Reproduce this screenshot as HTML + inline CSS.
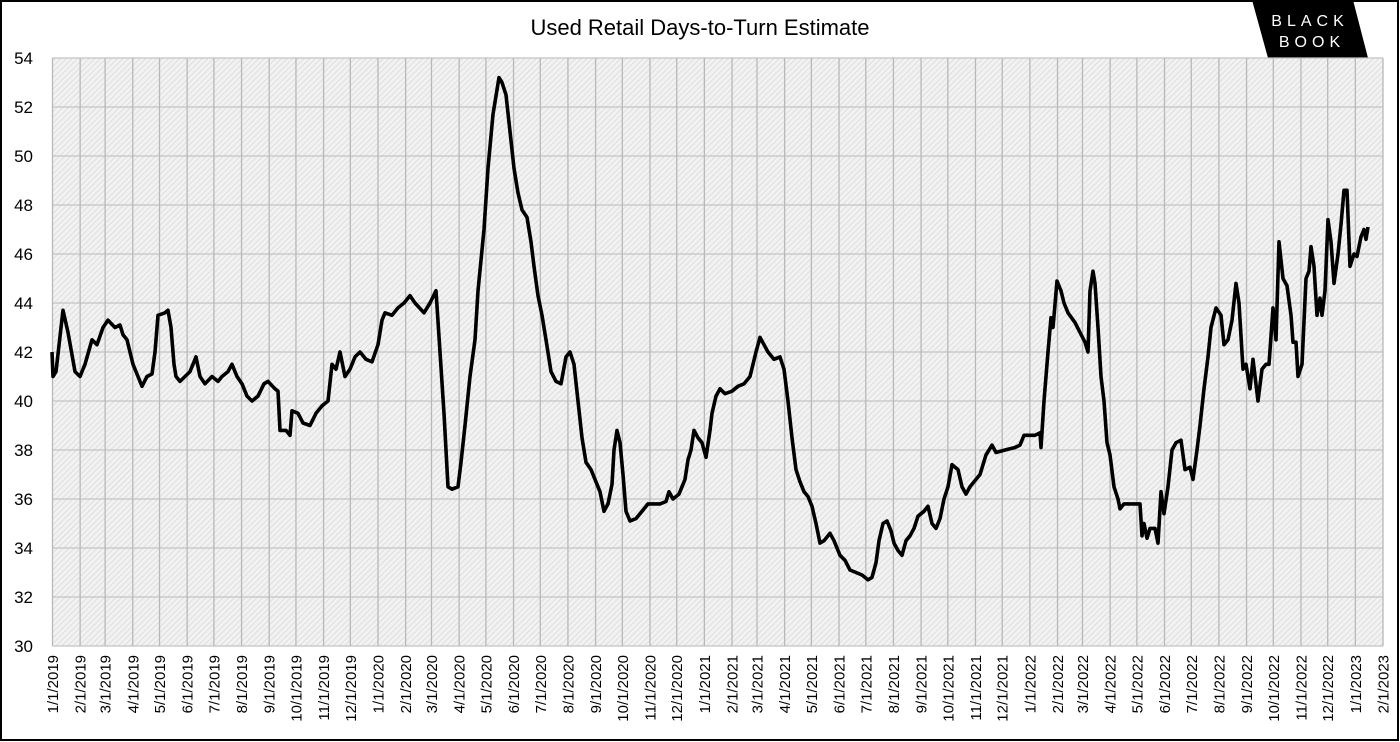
<!DOCTYPE html>
<html><head><meta charset="utf-8"><style>
html,body{margin:0;padding:0;background:#fff;}
svg{display:block;font-family:"Liberation Sans",Arial,sans-serif;}
</style></head><body>
<svg id="s" width="1400" height="742" xmlns="http://www.w3.org/2000/svg">
<defs>
<pattern id="h" width="4" height="4" patternUnits="userSpaceOnUse" patternTransform="rotate(45)">
<rect width="4" height="4" fill="#f2f2f2"/><line x1="0" y1="0" x2="0" y2="4" stroke="#d6d6d6" stroke-width="1.4"/>
</pattern>
</defs>
<rect x="1" y="1" width="1397" height="739" fill="#fff" stroke="#000" stroke-width="2"/>
<text x="700" y="35" font-size="22" text-anchor="middle" fill="#000" style="font-weight:500">Used Retail Days-to-Turn Estimate</text>
<polygon points="1252,0 1353,0 1368,58 1268,58" fill="#000"/>
<text x="1310" y="26" font-size="16" fill="#fff" text-anchor="middle" letter-spacing="5" style="font-weight:500">BLACK</text>
<text x="1312" y="47" font-size="16" fill="#fff" text-anchor="middle" letter-spacing="5" style="font-weight:500">BOOK</text>
<rect x="52.5" y="58" width="1330.5" height="588" fill="url(#h)"/>
<g id="g"></g>
</svg>
<script>
var s=document.getElementById('g'),h='';
var L=52.5,R=1383,T=58,B=646;
function Y(v){return T+(54-v)*24.5;}
for(var v=30;v<=54;v+=2){h+='<line x1="'+L+'" x2="'+R+'" y1="'+Y(v)+'" y2="'+Y(v)+'" stroke="#c4c4c4" stroke-width="1.3"/>';
h+='<text x="33" y="'+(Y(v)+6)+'" font-size="17" text-anchor="end">'+v+'</text>';}
var dpm=[31,28,31,30,31,30,31,31,30,31,30,31],day=0,px=(R-L)/1492;
for(var i=0;i<=49;i++){var y=2019+Math.floor(i/12),m=i%12;var x=L+day*px;
h+='<line x1="'+x+'" x2="'+x+'" y1="'+T+'" y2="'+B+'" stroke="#b8b8b8" stroke-width="1.3"/>';
h+='<text transform="translate('+(x+5.5)+',655) rotate(-90)" font-size="15" text-anchor="end">'+(m+1)+'/1/'+y+'</text>';
var d=dpm[m];if(m==1&&y%4==0)d=29;day+=d;}
var d=[52,42,53,41,56,41.2,63,43.7,68,42.8,75,41.2,80,41,85,41.5,92,42.5,97,42.3,103,43,108,43.3,115,43,120,43.1,123,42.7,127,42.5,133,41.5,138,41,142,40.6,147,41,152,41.1,155,42,158,43.5,165,43.6,168,43.7,171,43,174,41.5,176,41,180,40.8,185,41,190,41.2,196,41.8,200,41,205,40.7,212,41,218,40.8,222,41,228,41.2,232,41.5,237,41,242,40.7,247,40.2,252,40,258,40.2,264,40.7,268,40.8,275,40.5,278,40.4,280,38.8,286,38.8,290,38.6,292,39.6,298,39.5,303,39.1,310,39,316,39.5,322,39.8,328,40,332,41.5,336,41.3,340,42,345,41,350,41.3,355,41.8,360,42,366,41.7,372,41.6,378,42.3,382,43.3,385,43.6,392,43.5,398,43.8,404,44,410,44.3,415,44,424,43.6,430,44,436,44.5,440,42,444,39.5,448,36.5,452,36.4,458,36.5,461,37.5,465,39,470,41,475,42.5,478,44.5,484,47,488,49.5,493,51.7,499,53.2,502,53,506,52.5,510,51,514,49.5,518,48.5,522,47.8,527,47.5,531,46.5,534,45.5,538,44.3,542,43.5,546,42.5,551,41.2,556,40.8,561,40.7,566,41.8,570,42,574,41.5,578,40,582,38.5,586,37.5,591,37.2,595,36.8,600,36.3,604,35.5,608,35.8,612,36.6,614,38,617,38.8,620,38.3,623,37,626,35.5,630,35.1,636,35.2,642,35.5,648,35.8,660,35.8,666,35.9,669,36.3,673,36,679,36.2,685,36.8,688,37.6,691,38,694,38.8,698,38.5,702,38.3,706,37.7,710,38.8,712,39.5,716,40.2,720,40.5,725,40.3,732,40.4,738,40.6,744,40.7,750,41,756,42,760,42.6,764,42.3,768,42,774,41.7,780,41.8,784,41.3,788,40,792,38.5,796,37.2,800,36.7,804,36.3,808,36.1,812,35.7,816,35,820,34.2,824,34.3,830,34.6,834,34.3,840,33.7,845,33.5,850,33.1,856,33,862,32.9,868,32.7,872,32.8,876,33.4,879,34.3,883,35,887,35.1,891,34.7,894,34.2,898,33.9,902,33.7,906,34.3,910,34.5,914,34.8,918,35.3,924,35.5,928,35.7,932,35,936,34.8,940,35.2,944,36,948,36.5,952,37.4,958,37.2,962,36.5,966,36.2,970,36.5,976,36.8,980,37,986,37.8,992,38.2,996,37.9,1005,38,1015,38.1,1020,38.2,1024,38.6,1035,38.6,1040,38.7,1041,38.1,1044,40,1048,42,1051,43.4,1053,43,1057,44.9,1061,44.5,1064,44,1068,43.6,1075,43.2,1080,42.8,1085,42.4,1088,42,1090,44.5,1093,45.3,1095,44.8,1098,43,1101,41,1104,40,1107,38.3,1110,37.8,1114,36.5,1118,36,1120,35.6,1124,35.8,1140,35.8,1142,34.5,1144,35,1147,34.4,1150,34.8,1155,34.8,1158,34.2,1161,36.3,1164,35.4,1168,36.5,1172,38,1176,38.3,1181,38.4,1185,37.2,1190,37.3,1193,36.8,1197,38,1200,39,1204,40.5,1208,41.8,1211,43,1216,43.8,1221,43.5,1224,42.3,1228,42.5,1232,43.3,1236,44.8,1239,44,1243,41.3,1246,41.5,1250,40.5,1253,41.7,1258,40,1262,41.3,1266,41.5,1269,41.5,1273,43.8,1276,42.5,1279,46.5,1283,45,1287,44.7,1291,43.5,1293,42.4,1296,42.4,1298,41,1302,41.5,1306,45,1309,45.3,1311,46.3,1314,45.5,1317,43.5,1320,44.2,1322,43.5,1325,44.5,1328,47.4,1331,46.5,1334,44.8,1338,46,1341,47.2,1344,48.6,1347,48.6,1350,45.5,1354,46,1357,45.9,1361,46.7,1364,47,1366,46.6,1368,47.1];
var p='';for(var i=0;i<d.length;i+=2)p+=(i?' L':'M')+d[i]+','+Y(d[i+1]).toFixed(1);
h+='<path d="'+p+'" fill="none" stroke="#000" stroke-width="3.6" stroke-linejoin="round"/>';
s.innerHTML=h;
</script>
</body></html>
